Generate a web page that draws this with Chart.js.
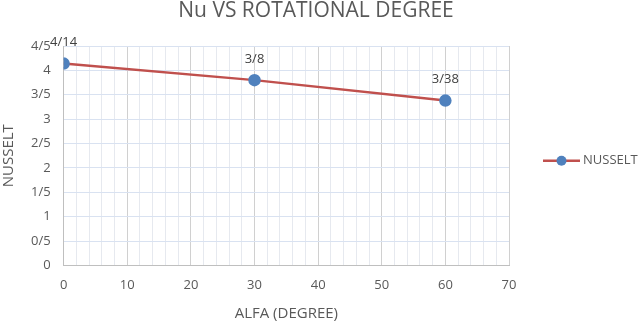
<!DOCTYPE html>
<html>
<head>
<meta charset="utf-8">
<script src="https://cdn.jsdelivr.net/npm/chart.js@4"></script>
<style>
html,body{margin:0;padding:0;background:#fff;}
#wrap{width:644px;height:324px;position:relative;}
</style>
</head>
<body>
<div id="wrap"><canvas id="c" width="644" height="324"></canvas></div>
<script>
const alfa = [0, 30, 60];
const nusselt = [4.14, 3.8, 3.38];
const pointLabels = ["4/14", "3/8", "3/38"];
const yTicks = [0, 0.5, 1, 1.5, 2, 2.5, 3, 3.5, 4, 4.5];
const xTicks = [0, 10, 20, 30, 40, 50, 60, 70];
const seriesName = "NUSSELT";
const chartTitle = "Nu VS ROTATIONAL DEGREE";

const FONT = "'Open Sans', 'Liberation Sans', sans-serif";
const RED = '#c0504d', BLUE = '#4f81bd';

function fmt(v){ return String(Math.round(v*10)/10).replace('.', '/'); }

const labelPlugin = {
  id: 'pointLabels',
  afterDatasetsDraw(chart){
    const ctx = chart.ctx;
    const meta = chart.getDatasetMeta(0);
    ctx.save();
    ctx.font = "13px " + FONT;
    ctx.fillStyle = '#404040';
    ctx.textAlign = 'center';
    ctx.textBaseline = 'middle';
    meta.data.forEach((p,i)=>{
      ctx.fillText(pointLabels[i], p.x, p.y - 21);
    });
    ctx.restore();
  }
};

const titlePlugin = {
  id: 'topTitle',
  afterDraw(chart){
    const ctx = chart.ctx;
    ctx.save();
    ctx.font = "21px " + FONT;
    ctx.fillStyle = '#595959';
    ctx.textAlign = 'center';
    ctx.textBaseline = 'middle';
    ctx.fillText(chartTitle, 316, 11);
    ctx.restore();
  }
};

const legendPlugin = {
  id: 'sideLegend',
  afterDraw(chart){
    const ctx = chart.ctx;
    const ds = chart.data.datasets[0];
    const a = chart.chartArea;
    const y = (a.top + a.bottom) / 2 + 5;
    const x0 = a.right + 34;
    ctx.save();
    ctx.strokeStyle = ds.borderColor; ctx.lineWidth = 2.5;
    ctx.beginPath(); ctx.moveTo(x0, y); ctx.lineTo(x0 + 37, y); ctx.stroke();
    ctx.fillStyle = ds.pointBackgroundColor;
    ctx.beginPath(); ctx.arc(x0 + 18.5, y, 5, 0, Math.PI*2); ctx.fill();
    ctx.font = "13px " + FONT;
    ctx.fillStyle = '#595959';
    ctx.textAlign = 'left';
    ctx.textBaseline = 'middle';
    ctx.fillText(ds.label, x0 + 40, y);
    ctx.restore();
  }
};

new Chart(document.getElementById('c'), {
  type: 'scatter',
  data: {
    datasets: [{
      label: seriesName,
      data: alfa.map((x,i)=>({x:x, y:nusselt[i]})),
      showLine: true,
      borderColor: RED,
      borderWidth: 2.5,
      backgroundColor: BLUE,
      pointBackgroundColor: BLUE,
      pointBorderColor: BLUE,
      pointRadius: 5,
      tension: 0
    }]
  },
  options: {
    responsive: false,
    animation: false,
    layout: { padding: { left: 0, right: 135, top: 46, bottom: 1 } },
    plugins: {
      title: { display: false },
      legend: { display: false },
      tooltip: { enabled: false }
    },
    scales: {
      x: {
        type: 'linear',
        min: xTicks[0], max: xTicks[xTicks.length-1],
        ticks: {
          stepSize: 2,
          autoSkip: false,
          maxRotation: 0,
          padding: 12,
          color: '#595959',
          font: { family: FONT, size: 13 },
          callback: (v)=> xTicks.includes(v) ? String(v) : ''
        },
        grid: {
          color: (c)=> (c.tick && xTicks.includes(c.tick.value)) ? '#d0d0d0' : '#e6e9ef',
          lineWidth: 1,
          drawTicks: false
        },
        border: { color: '#bfbfbf', width: 1 },
        title: {
          display: true, text: 'ALFA (DEGREE)', color: '#595959',
          font: { family: FONT, size: 15 }, padding: { top: 0, bottom: 0 }
        }
      },
      y: {
        min: yTicks[0], max: yTicks[yTicks.length-1],
        afterBuildTicks: (s)=>{ s.ticks = yTicks.map(v=>({value:v})); },
        ticks: {
          color: '#595959',
          font: { family: FONT, size: 13 },
          padding: 13,
          callback: (v)=> fmt(v)
        },
        grid: { color: '#d9e2f1', lineWidth: 1, drawTicks: false },
        border: { color: '#bfbfbf', width: 1 },
        title: {
          display: true, text: 'NUSSELT', color: '#595959',
          font: { family: FONT, size: 15 }, padding: { top: 0, bottom: 0 }
        }
      }
    }
  },
  plugins: [labelPlugin, legendPlugin, titlePlugin]
});
</script>
</body>
</html>
